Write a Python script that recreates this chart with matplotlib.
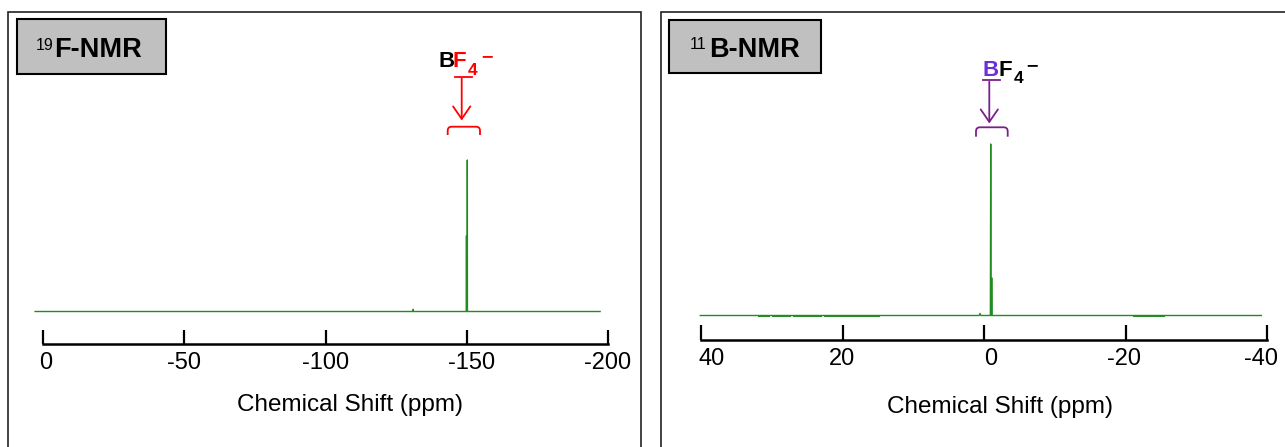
import matplotlib
matplotlib.use('Agg')
import matplotlib.pyplot as plt
import matplotlib.transforms as mtransforms
from matplotlib.patches import Rectangle, PathPatch
from matplotlib.path import Path

plt.rcParams['font.family'] = ['Liberation Sans', 'DejaVu Sans']

# 19F spectrum (ppm, normalised intensity)
f19_shift = [2.8, -131.0, -131.05, -131.1, -149.85, -149.9, -149.95, -150.15, -150.2, -150.25, -197.2]
f19_int = [0.0, 0.0, 0.015, 0.0, 0.0, 0.50, 0.0, 0.0, 1.0, 0.0, 0.0]
f19_ticks = [0, -50, -100, -150, -200]

# 11B spectrum
b11_shift = [40.1, 0.70, 0.57, 0.45, -0.90, -0.95, -1.00, -1.05, -1.09, -1.14, -39.2]
b11_int = [0.0, 0.0, 0.012, 0.0, 0.0, 1.0, 0.0, 0.0, 0.22, 0.0, 0.0]
b11_noise_start = [31.9, 30.0, 27.0, 22.6, -21.1]
b11_noise_end = [30.2, 27.3, 22.9, 14.7, -25.6]
b11_ticks = [40, 20, 0, -20, -40]

W, H = 1285, 447
GREEN = '#228b22'
PURPLE = '#7a1f8a'
BLUE_PURPLE = '#6b2fd6'

fig = plt.figure(figsize=(W / 100, H / 100), dpi=100)


def fx(x):
    return x / W


def fy(y):
    return 1 - y / H


def spectrum_axes(left, right, spine_y, base_y, peak_y, top_val=1.25):
    unit = base_y - peak_y
    ymin = -(spine_y - base_y) / unit
    top_y = base_y - top_val * unit
    ax = fig.add_axes([fx(left), fy(spine_y), (right - left) / W, (spine_y - top_y) / H])
    ax.set_ylim(ymin, top_val)
    ax.patch.set_alpha(0)
    for s in ['top', 'left', 'right']:
        ax.spines[s].set_visible(False)
    ax.spines['bottom'].set_linewidth(1.8)
    ax.set_yticks([])
    return ax


def shift_labels(ax, offsets):
    for lab, val in zip(ax.get_xticklabels(), ax.get_xticks()):
        dx = offsets.get(int(round(val)), 0)
        off = mtransforms.ScaledTranslation(dx / 100, 0, fig.dpi_scale_trans)
        lab.set_transform(lab.get_transform() + off)


def bracket(x0, x1, ytop, ybot, color):
    r = 4
    pts = [(x0, ybot), (x0, ytop + r), (x0, ytop), (x0 + r, ytop),
           (x1 - r, ytop), (x1, ytop), (x1, ytop + r), (x1, ybot)]
    codes = [Path.MOVETO, Path.LINETO, Path.CURVE3, Path.CURVE3,
             Path.LINETO, Path.CURVE3, Path.CURVE3, Path.LINETO]
    path = Path([(fx(a), fy(b)) for a, b in pts], codes)
    fig.add_artist(PathPatch(path, fill=False, ec=color, lw=1.3,
                             transform=fig.transFigure))


def arrow(x, y0, y1, color):
    fig.add_artist(matplotlib.patches.FancyArrowPatch(
        (fx(x), fy(y0)), (fx(x), fy(y1)), transform=fig.transFigure,
        arrowstyle='->, head_length=0.9, head_width=0.62', mutation_scale=10,
        color=color, lw=1.3, shrinkA=0, shrinkB=0))


def underline(x0, x1, y, color):
    fig.add_artist(plt.Line2D([fx(x0), fx(x1)], [fy(y), fy(y)], color=color,
                              lw=1.3, transform=fig.transFigure))


# panel frames
fig.add_artist(Rectangle((fx(8), fy(470)), (641 - 8) / W, (470 - 12) / H, fill=False,
                         ec='#222222', lw=1.2, transform=fig.transFigure))
fig.add_artist(Rectangle((fx(661), fy(470)), (1320 - 661) / W, (470 - 12) / H, fill=False,
                         ec='#222222', lw=1.2, transform=fig.transFigure))

# title boxes
fig.add_artist(Rectangle((fx(17), fy(73.5)), 149 / W, 54 / H, fc='#c0c0c0',
                         ec='black', lw=1.5, transform=fig.transFigure))
fig.add_artist(Rectangle((fx(669), fy(73)), 152 / W, 53 / H, fc='#c0c0c0',
                         ec='black', lw=1.5, transform=fig.transFigure))
fig.text(fx(36), fy(49.5), '19', fontsize=11.5, va='baseline')
fig.text(fx(54), fy(56.7), 'F-NMR', fontsize=19.5, fontweight='bold', va='baseline')
fig.text(fx(689.5), fy(49), '11', fontsize=11.5, va='baseline')
fig.text(fx(709), fy(56.7), 'B-NMR', fontsize=19.5, fontweight='bold', va='baseline')

# 19F panel
ax1 = spectrum_axes(43, 608, 344, 311.5, 160)
ax1.plot(f19_shift, f19_int, color=GREEN, lw=1.0, clip_on=False)
ax1.set_xlim(0, -200)
ax1.set_xticks(f19_ticks)
ax1.set_xticklabels([str(t) for t in f19_ticks])
ax1.tick_params(axis='x', direction='in', length=10, width=1.6, labelsize=17, pad=6)
shift_labels(ax1, {0: 3, -150: 5})
fig.text(fx(350), fy(410.7), 'Chemical Shift (ppm)', fontsize=17.5, ha='center', va='baseline')

# 11B panel
ax2 = spectrum_axes(701, 1267, 340, 315.5, 144)
ax2.plot(b11_shift, b11_int, color=GREEN, lw=1.0, clip_on=False)
ax2.hlines([-0.004] * len(b11_noise_start), b11_noise_start, b11_noise_end,
           color=GREEN, lw=1.4)
ax2.set_xlim(40, -40)
ax2.set_xticks(b11_ticks)
ax2.set_xticklabels([str(t) for t in b11_ticks])
ax2.tick_params(axis='x', direction='in', length=11, width=1.6, labelsize=17, pad=6)
shift_labels(ax2, {40: 11, 0: 7, -20: -2, -40: -6})
fig.text(fx(1000), fy(413.5), 'Chemical Shift (ppm)', fontsize=17.5, ha='center', va='baseline')

# BF4- label, 19F
fig.text(fx(438.5), fy(67.3), 'B', fontsize=16, fontweight='bold', va='baseline')
fig.text(fx(452.5), fy(67.3), 'F', fontsize=16, fontweight='bold', color='red', va='baseline')
fig.text(fx(467.5), fy(75), '4', fontsize=12.5, fontweight='bold', color='red', va='baseline')
fig.text(fx(480.5), fy(61.5), '\u2212', fontsize=11.5, fontweight='bold', color='red', va='baseline',
         family=['DejaVu Sans'])
underline(455, 471.7, 76.5, 'red')
arrow(461.7, 78.3, 120.5, 'red')
bracket(447.7, 480, 126.7, 135, 'red')

# BF4- label, 11B
fig.text(fx(982.8), fy(76), 'B', fontsize=16, fontweight='bold', color=BLUE_PURPLE, va='baseline')
fig.text(fx(998.8), fy(76), 'F', fontsize=16, fontweight='bold', va='baseline')
fig.text(fx(1013.5), fy(83.3), '4', fontsize=12.5, fontweight='bold', va='baseline')
fig.text(fx(1025.5), fy(70), '\u2212', fontsize=11.5, fontweight='bold', va='baseline',
         family=['DejaVu Sans'])
underline(983, 1000, 79.5, PURPLE)
arrow(989.3, 81.7, 123.5, PURPLE)
bracket(976, 1007.7, 127.3, 136.7, PURPLE)

fig.savefig('out.png', dpi=100)
